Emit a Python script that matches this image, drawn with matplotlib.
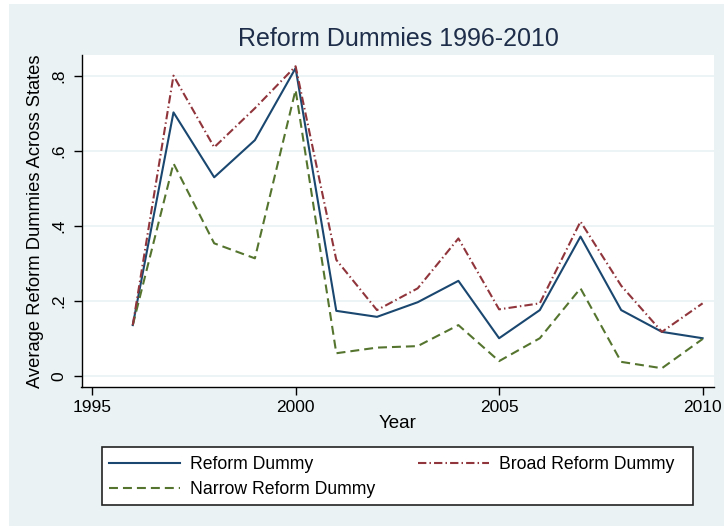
import matplotlib
matplotlib.use("Agg")
import matplotlib.pyplot as plt
from matplotlib.patches import Rectangle

plt.rcParams['font.family'] = ['Liberation Sans', 'DejaVu Sans']

years = [1996, 1997, 1998, 1999, 2000, 2001, 2002, 2003, 2004, 2005, 2006, 2007, 2008, 2009, 2010]
reform = [0.135, 0.702, 0.529, 0.628, 0.820, 0.173, 0.157, 0.196, 0.253, 0.100, 0.175, 0.371, 0.175, 0.117, 0.100]
broad = [0.135, 0.800, 0.609, 0.713, 0.825, 0.309, 0.175, 0.233, 0.366, 0.177, 0.193, 0.411, 0.240, 0.117, 0.193]
narrow = [0.135, 0.566, 0.353, 0.313, 0.762, 0.060, 0.075, 0.079, 0.135, 0.039, 0.100, 0.233, 0.037, 0.020, 0.098]

xticks = [1995, 2000, 2005, 2010]
yticks = [0, 0.2, 0.4, 0.6, 0.8]
ytick_labels = ['0', '.2', '.4', '.6', '.8']

bg = '#EAF2F3'
navy = '#1a476f'
maroon = '#90353b'
green = '#55752f'

W, H = 724, 526
fig = plt.figure(figsize=(W / 100, H / 100), dpi=100)
fig.patch.set_facecolor('white')
# stata style light blue outer region
fig.patches.append(Rectangle((9 / W, 0), 1, 1 - 4 / H, transform=fig.transFigure,
                             facecolor=bg, edgecolor='none', zorder=-10))

ax = fig.add_axes([81.5 / W, 1 - 387 / H, (714 - 81.5) / W, (387 - 55) / H])
ax.set_facecolor('white')

lw = 1.5
l_ref, = ax.plot(years, reform, color=navy, lw=lw, label='Reform Dummy', zorder=3)
l_nar, = ax.plot(years, narrow, color=green, lw=lw, dashes=(4.3, 2.4), label='Narrow Reform Dummy', zorder=3)
l_brd, = ax.plot(years, broad, color=maroon, lw=lw, dashes=(4.0, 1.5, 0.7, 1.5), label='Broad Reform Dummy', zorder=3)

ax.set_xlim(1994.74, 2010.28)
ax.set_ylim(-0.030, 0.855)
ax.set_xticks(xticks)
ax.set_yticks(yticks)
ax.set_yticklabels(ytick_labels, rotation=90, va='center')
ax.grid(axis='y', color=bg, lw=1.2, zorder=0)
ax.tick_params(axis='both', direction='out', length=6, width=1, labelsize=12.5, colors='black')
ax.tick_params(axis='y', pad=5)
ax.tick_params(axis='x', pad=3)
for s in ['top', 'right']:
    ax.spines[s].set_visible(False)
for s in ['left', 'bottom']:
    ax.spines[s].set_linewidth(1)

ax.set_xlabel('Year', fontsize=13.5, labelpad=0)
ax.set_ylabel('Average Reform Dummies Across States', fontsize=13.2, labelpad=5)
fig.text(398 / W, 1 - 39 / H, 'Reform Dummies 1996-2010', fontsize=18, color='#1e2e4a',
         ha='center', va='center')

# legend: frame drawn separately, two columns placed like stata
fig.patches.append(Rectangle((102 / W, 1 - 505 / H), (693 - 102) / W, (505 - 447) / H,
                             transform=fig.transFigure, facecolor='white',
                             edgecolor='#222222', lw=1.2, zorder=1))
leg_kw = dict(loc='upper left', fontsize=12.7, frameon=False, handlelength=4.0,
              handletextpad=0.62, borderpad=0, borderaxespad=0, labelspacing=0.45)
leg1 = fig.legend(handles=[l_ref, l_nar], bbox_to_anchor=(109 / W, 1 - 456 / H), **leg_kw)
leg2 = fig.legend(handles=[l_brd], bbox_to_anchor=(418 / W, 1 - 456 / H), **leg_kw)
leg1.set_zorder(2)
leg2.set_zorder(2)

fig.savefig('out.png', dpi=100, facecolor=fig.get_facecolor())
